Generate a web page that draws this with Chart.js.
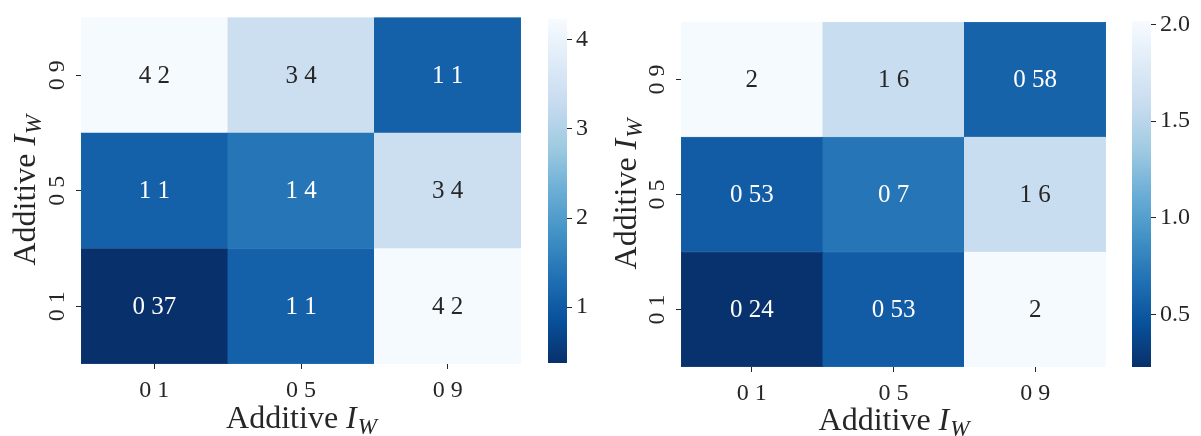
<!DOCTYPE html>
<html><head><meta charset="utf-8">
<script src="https://cdn.jsdelivr.net/npm/chart.js@4"></script>
<style>
html,body{margin:0;padding:0;background:#fff;width:1201px;height:436px;overflow:hidden;position:relative;}
canvas{position:absolute;top:0;}
</style></head><body>
<canvas id="h1" width="530" height="436" style="left:0px;width:530px;height:436px"></canvas>
<canvas id="c1" width="70" height="436" style="left:530px;width:70px;height:436px"></canvas>
<canvas id="h2" width="515" height="436" style="left:600px;width:515px;height:436px"></canvas>
<canvas id="c2" width="86" height="436" style="left:1115px;width:86px;height:436px"></canvas>
<script>
// ---------- data ----------
const xTickLabels = ['0 1', '0 5', '0 9'];
const yTickLabels = ['0 1', '0 5', '0 9'];   // bottom to top
// left heatmap rows (bottom to top: 0.1, 0.5, 0.9)
const leftRow01 = [0.37, 1.1, 4.2];
const leftRow05 = [1.1, 1.4, 3.4];
const leftRow09 = [4.2, 3.4, 1.1];
// right heatmap rows
const rightRow01 = [0.24, 0.53, 2];
const rightRow05 = [0.53, 0.7, 1.6];
const rightRow09 = [2, 1.6, 0.58];
// colour ranges and colourbar ticks
const leftRange = [0.374, 4.24];
const rightRange = [0.229, 2.017];
const leftColorbarTicks = [1, 2, 3, 4];
const rightColorbarTicks = [0.5, 1.0, 1.5, 2.0];
const axisTitleMain = 'Additive ';
const axisTitleVar = 'I';
const axisTitleSub = 'W';

// ---------- style ----------
const SERIF = '"Liberation Serif", "DejaVu Serif", serif';
const TXT = '#262626';
const BLUES = ['#f7fbff','#deebf7','#c6dbef','#9ecae1','#6baed6','#4292c6','#2171b5','#08519c','#08306b'];

function hex2rgb(h){return [parseInt(h.slice(1,3),16),parseInt(h.slice(3,5),16),parseInt(h.slice(5,7),16)];}
function bluesR(t){
  t = Math.max(0, Math.min(1, t));
  const s = (1 - t) * 8;
  const lo = Math.min(7, Math.floor(s)), f = s - lo;
  const a = hex2rgb(BLUES[lo]), b = hex2rgb(BLUES[lo+1]);
  return a.map((c,i)=>Math.round(c + (b[i]-c)*f));
}
function cmap(v, range){ const c = bluesR((v - range[0])/(range[1]-range[0])); return `rgb(${c[0]},${c[1]},${c[2]})`; }
function lum(v, range){
  const c = bluesR((v - range[0])/(range[1]-range[0])).map(x=>{x/=255;return x<=0.03928?x/12.92:Math.pow((x+0.055)/1.055,2.4);});
  return 0.2126*c[0]+0.7152*c[1]+0.0722*c[2];
}

function drawTitle(ctx, x, y, rotate){
  ctx.save();
  ctx.translate(x, y);
  if (rotate) ctx.rotate(-Math.PI/2);
  ctx.fillStyle = TXT;
  ctx.textBaseline = 'alphabetic';
  ctx.textAlign = 'left';
  const f1 = '32px ' + SERIF, f2 = 'italic 32px ' + SERIF, f3 = 'italic 23px ' + SERIF;
  ctx.font = f1; const w1 = ctx.measureText(axisTitleMain).width;
  ctx.font = f2; const w2 = ctx.measureText(axisTitleVar).width;
  ctx.font = f3; const w3 = ctx.measureText(axisTitleSub).width;
  let sx = -(w1 + w2 + w3) / 2;
  ctx.font = f1; ctx.fillText(axisTitleMain, sx, 0); sx += w1;
  ctx.font = f2; ctx.fillText(axisTitleVar, sx, 0); sx += w2 + 1;
  ctx.font = f3; ctx.fillText(axisTitleSub, sx, 6);
  ctx.restore();
}

function heatmap(id, rows, range, padTop, padRight, xAxisHeight, xTitleBase, yTitleBase){
  const datasets = rows.map((vals, r) => ({
    data: vals.map(() => [r, r + 1]),
    values: vals,
    backgroundColor: vals.map(v => cmap(v, range)),
    borderColor: vals.map(v => cmap(v, range)),
    borderWidth: 0.5,
    borderSkipped: false,
    barPercentage: 1,
    categoryPercentage: 1,
    grouped: false
  }));
  const annotate = {
    id: 'annotate',
    afterDatasetsDraw(chart){
      const ctx = chart.ctx;
      ctx.save();
      ctx.font = '25px ' + SERIF;
      ctx.textAlign = 'center';
      ctx.textBaseline = 'middle';
      chart.data.datasets.forEach((ds, di) => {
        chart.getDatasetMeta(di).data.forEach((bar, i) => {
          const v = ds.values[i];
          ctx.fillStyle = lum(v, range) > 0.408 ? TXT : '#ffffff';
          ctx.fillText(String(v).replace('.', ' '), bar.x, (bar.y + bar.base) / 2 + 1);
        });
      });
      ctx.restore();
    },
    afterDraw(chart){
      const a = chart.chartArea;
      drawTitle(chart.ctx, (a.left + a.right) / 2, xTitleBase, false);
      drawTitle(chart.ctx, yTitleBase, (a.top + a.bottom) / 2, true);
    }
  };
  const tickFont = { family: SERIF, size: 24 };
  return new Chart(document.getElementById(id), {
    type: 'bar',
    data: { labels: xTickLabels, datasets },
    options: {
      responsive: false, animation: false, devicePixelRatio: 1,
      layout: { padding: { top: padTop, right: padRight, left: 0, bottom: 0 } },
      plugins: { legend: { display: false }, tooltip: { enabled: false } },
      scales: {
        x: {
          type: 'category', offset: true,
          grid: { display: true, drawOnChartArea: false, drawTicks: true, tickLength: 5, tickColor: TXT, tickWidth: 1, offset: false },
          border: { display: false },
          ticks: { font: tickFont, color: TXT, padding: 7, minRotation: 0, maxRotation: 0 },
          afterFit: s => { s.height = xAxisHeight; }
        },
        y: {
          type: 'linear', min: 0, max: rows.length,
          grid: { display: true, drawOnChartArea: false, drawTicks: true, tickLength: 5, tickColor: TXT, tickWidth: 1 },
          border: { display: false },
          afterBuildTicks: s => { s.ticks = yTickLabels.map((_, i) => ({ value: i + 0.5 })); },
          ticks: { font: tickFont, color: TXT, padding: 3, minRotation: 90, maxRotation: 90, crossAlign: 'center',
                   callback: v => yTickLabels[Math.floor(v)] },
          afterFit: s => { s.width = 81; }
        }
      }
    },
    plugins: [annotate]
  });
}

function colorbar(id, range, ticks, fmt, padLeft, axisWidth, padTop, padBottom){
  return new Chart(document.getElementById(id), {
    type: 'bar',
    data: { labels: [''], datasets: [{
      data: [range],
      backgroundColor: ctx => {
        const a = ctx.chart.chartArea;
        if (!a) return BLUES[4];
        const g = ctx.chart.ctx.createLinearGradient(0, a.bottom, 0, a.top);
        BLUES.forEach((c, i) => g.addColorStop(i / 8, BLUES[8 - i]));
        return g;
      },
      borderWidth: 0, barPercentage: 1, categoryPercentage: 1
    }]},
    options: {
      responsive: false, animation: false, devicePixelRatio: 1,
      layout: { padding: { left: padLeft, right: 0, top: padTop, bottom: padBottom } },
      plugins: { legend: { display: false }, tooltip: { enabled: false } },
      scales: {
        x: { display: false },
        y: {
          position: 'right', min: range[0], max: range[1],
          afterBuildTicks: s => { s.ticks = ticks.map(v => ({ value: v })); },
          ticks: { font: { family: SERIF, size: 24 }, color: TXT, padding: 4, callback: v => fmt(v) },
          grid: { display: true, drawOnChartArea: false, drawTicks: true, tickLength: 5, tickColor: TXT, tickWidth: 1 },
          border: { display: false },
          afterFit: s => { s.width = axisWidth; }
        }
      }
    }
  });
}

heatmap('h1', [leftRow01, leftRow05, leftRow09], leftRange, 8, 9, 72, 428, 35);
colorbar('c1', leftRange, leftColorbarTicks, v => String(v), 18, 33, 5, 73);
heatmap('h2', [rightRow01, rightRow05, rightRow09], rightRange, 22, 9, 69, 430, 36);
colorbar('c2', rightRange, rightColorbarTicks, v => v.toFixed(1), 17, 50, 21, 69);
</script>
</body></html>
